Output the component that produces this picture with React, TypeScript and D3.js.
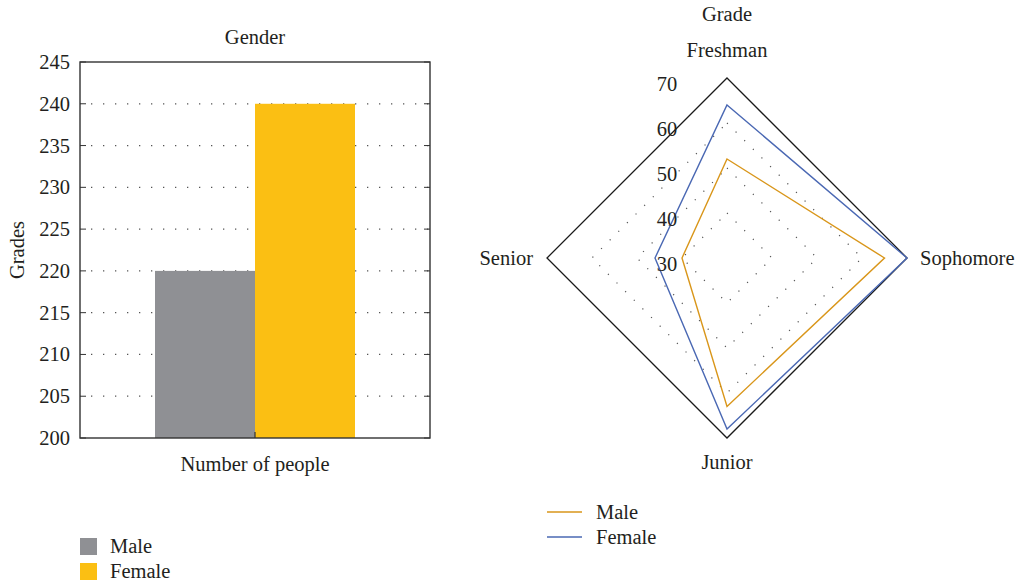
import React from "react";
import * as d3 from "d3";

const barCategories = ["Number of people"];
const barSeries = ["Male", "Female"];
const barValues = [220, 240];
const barColors = ["#8f9094", "#fbbf13"];
const barTicks = [200, 205, 210, 215, 220, 225, 230, 235, 240, 245];

const radarAxes = ["Freshman", "Sophomore", "Junior", "Senior"];
const radarSeries = ["Male", "Female"];
const radarMale = [52, 65, 63, 40];
const radarFemale = [64, 70, 68, 46];
const radarColors = ["#d9961a", "#4a68b3"];
const radarTicks = [30, 40, 50, 60, 70];

const FONT = "'Liberation Serif', 'DejaVu Serif', serif";
const TXT = "#231f20";
const FS = 20.5;

export default function App() {
  const W = 1021, H = 586;
  // Bar chart
  const left = 80, right = 430, top = 62, bottom = 438;
  const y = d3.scaleLinear().domain([200, 245]).range([bottom, top]);
  const x0 = d3.scaleBand().domain(barCategories).range([left, right]).paddingInner(0).paddingOuter(0.375);
  const x1 = d3.scaleBand().domain(barSeries).range([0, x0.bandwidth()]).padding(0);
  const cxBar = (left + right) / 2;

  // Radar
  const cx = 727, cy = 258, R = 180;
  const r = d3.scaleLinear().domain([30, 70]).range([0, R]);
  const ang = (i: number) => (i * Math.PI * 2) / radarAxes.length;
  const pt = (i: number, v: number): [number, number] => [
    cx + r(v) * Math.sin(ang(i)),
    cy - r(v) * Math.cos(ang(i)),
  ];
  const line = d3.line<[number, number]>().curve(d3.curveLinearClosed);
  const ring = (v: number) => line(radarAxes.map((_, i) => pt(i, v))) as string;
  const seriesData = [radarMale, radarFemale];

  return (
    <svg width={W} height={H} style={{ display: "block", position: "absolute", left: 0, top: 0 }} fontFamily={FONT}>
      <rect width={W} height={H} fill="#fff" />
      {/* Bar chart */}
      <text x={cxBar} y={44} textAnchor="middle" fontSize={FS} fill={TXT}>Gender</text>
      {barTicks.slice(1, -1).map((t) => (
        <line key={"g" + t} x1={left} x2={right} y1={y(t)} y2={y(t)} stroke="#555" strokeWidth={1.3}
          strokeDasharray="1.3,10.7" strokeDashoffset={-11} />
      ))}
      {barSeries.map((s, i) => (
        <rect key={s} x={(x0(barCategories[0]) as number) + (x1(s) as number)} y={y(barValues[i])}
          width={x1.bandwidth()} height={bottom - y(barValues[i])} fill={barColors[i]} />
      ))}
      {barTicks.map((t) => (
        <g key={"t" + t}>
          <line x1={left} x2={left + 6} y1={y(t)} y2={y(t)} stroke="#333" strokeWidth={1} />
          <line x1={right - 6} x2={right} y1={y(t)} y2={y(t)} stroke="#333" strokeWidth={1} />
          <text x={left - 10} y={y(t) + 7} textAnchor="end" fontSize={FS} fill={TXT}>{t}</text>
        </g>
      ))}
      <line x1={cxBar} x2={cxBar} y1={bottom} y2={bottom - 6} stroke="#333" strokeWidth={1.2} />
      <rect x={left} y={top} width={right - left} height={bottom - top} fill="none" stroke="#333" strokeWidth={1.4} />
      <text x={cxBar} y={471} textAnchor="middle" fontSize={FS} fill={TXT}>{barCategories[0]}</text>
      <text transform={`translate(24,${(top + bottom) / 2}) rotate(-90)`} textAnchor="middle" fontSize={FS} fill={TXT}>Grades</text>
      {barSeries.map((s, i) => (
        <g key={"l" + s}>
          <rect x={80} y={538 + i * 25} width={17} height={17} fill={barColors[i]} />
          <text x={110} y={553 + i * 25} fontSize={FS} fill={TXT}>{s}</text>
        </g>
      ))}

      {/* Radar */}
      <text x={cx} y={21} textAnchor="middle" fontSize={FS} fill={TXT}>Grade</text>
      {radarTicks.slice(1, -1).map((t) => (
        <path key={"rg" + t} d={ring(t)} fill="none" stroke="#555" strokeWidth={1.2} strokeDasharray="1.2,11" />
      ))}
      <path d={ring(70)} fill="none" stroke="#1a1a1a" strokeWidth={1.3} />
      {seriesData.map((vals, si) => (
        <path key={"rs" + si} d={line(vals.map((v, i) => pt(i, v))) as string} fill="none"
          stroke={radarColors[si]} strokeWidth={1.4} />
      ))}
      {radarTicks.map((t) => (
        <text key={"rt" + t} x={667} y={cy - r(t) + 13} textAnchor="middle" fontSize={FS} fill={TXT}>{t}</text>
      ))}
      <text x={cx} y={57} textAnchor="middle" fontSize={FS} fill={TXT}>{radarAxes[0]}</text>
      <text x={pt(1, 70)[0] + 13} y={cy + 7} textAnchor="start" fontSize={FS} fill={TXT}>{radarAxes[1]}</text>
      <text x={cx} y={pt(2, 70)[1] + 31} textAnchor="middle" fontSize={FS} fill={TXT}>{radarAxes[2]}</text>
      <text x={pt(3, 70)[0] - 14} y={cy + 7} textAnchor="end" fontSize={FS} fill={TXT}>{radarAxes[3]}</text>
      {radarSeries.map((s, i) => (
        <g key={"rl" + s}>
          <line x1={547} x2={582} y1={512 + i * 25} y2={512 + i * 25} stroke={radarColors[i]} strokeWidth={1.3} />
          <text x={596} y={519 + i * 25} fontSize={FS} fill={TXT}>{s}</text>
        </g>
      ))}
    </svg>
  );
}
